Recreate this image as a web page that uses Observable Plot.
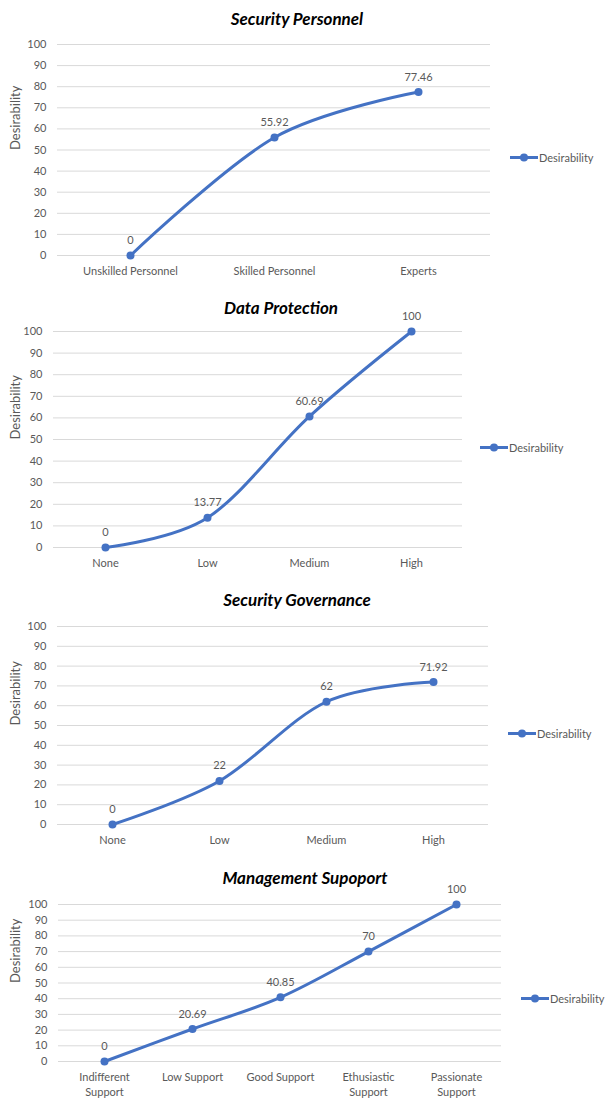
<!DOCTYPE html>
<html>
<head>
<meta charset="utf-8">
<script src="https://cdn.jsdelivr.net/npm/d3@7"></script>
<script src="https://cdn.jsdelivr.net/npm/@observablehq/plot@0.6"></script>
<style>
  html, body { margin: 0; padding: 0; background: #fff; }
  #page { position: relative; width: 605px; height: 1100px; overflow: hidden; font-family: Lato, "Open Sans", sans-serif; }
  .title { position: absolute; transform: translate(-50%, -50%); white-space: nowrap;
           font-weight: bold; font-style: italic; font-size: 17px; color: #000; }
  .chart { position: absolute; left: 0; }
  .legend { position: absolute; display: flex; align-items: center; transform: translateY(-50%);
            font-size: 11px; color: #595959; white-space: nowrap; }
</style>
</head>
<body>
<div id="page"></div>
<script>
// Shared value axis
const yTicks = [0, 10, 20, 30, 40, 50, 60, 70, 80, 90, 100];
const seriesName = "Desirability";

// Security Personnel
const personnelLevels = ["Unskilled Personnel", "Skilled Personnel", "Experts"];
const personnelValues = [0, 55.92, 77.46];

// Data Protection
const protectionLevels = ["None", "Low", "Medium", "High"];
const protectionValues = [0, 13.77, 60.69, 100];

// Security Governance
const governanceLevels = ["None", "Low", "Medium", "High"];
const governanceValues = [0, 22, 62, 71.92];

// Management Supoport
const supportLevels = ["Indifferent\nSupport", "Low Support", "Good Support", "Ethusiastic\nSupport", "Passionate\nSupport"];
const supportValues = [0, 20.69, 40.85, 70, 100];

const titles = ["Security Personnel", "Data Protection", "Security Governance", "Management Supoport"];

const panels = [
  {title: titles[0], cats: personnelLevels, vals: personnelValues,
   top: 30, height: 260, mt: 14, mb: 35, ml: 57, mr: 115, titleX: 297, titleY: 18, legendX: 510, legendY: 157},
  {title: titles[1], cats: protectionLevels, vals: protectionValues,
   top: 318, height: 262, mt: 13, mb: 33, ml: 53, mr: 143, titleX: 281, titleY: 307, legendX: 480, legendY: 447},
  {title: titles[2], cats: governanceLevels, vals: governanceValues,
   top: 612, height: 248, mt: 14, mb: 36, ml: 57, mr: 117, titleX: 297, titleY: 599, legendX: 508, legendY: 733},
  {title: titles[3], cats: supportLevels, vals: supportValues,
   top: 890, height: 210, mt: 14, mb: 39, ml: 58, mr: 104, titleX: 305, titleY: 877, legendX: 521, legendY: 998}
];

const page = document.getElementById("page");
const blue = "#4472C4";
const gray = "#595959";

for (const p of panels) {
  const data = p.cats.map((c, i) => ({level: c, value: p.vals[i]}));

  const title = document.createElement("div");
  title.className = "title";
  title.style.left = p.titleX + "px";
  title.style.top = p.titleY + "px";
  title.textContent = p.title;
  page.appendChild(title);

  const chart = Plot.plot({
    width: 605,
    height: p.height,
    marginTop: p.mt,
    marginBottom: p.mb,
    marginLeft: p.ml,
    marginRight: p.mr,
    style: {fontFamily: "Lato, 'Open Sans', sans-serif", fontSize: "11px", color: gray, background: "transparent", overflow: "visible"},
    x: {type: "point", domain: p.cats, padding: 0.5, label: null},
    y: {domain: [0, 100], label: null},
    marks: [
      Plot.gridY({ticks: yTicks, stroke: "#d9d9d9", strokeOpacity: 1, strokeWidth: 1}),
      Plot.axisY({ticks: yTicks, tickSize: 0, tickPadding: 11, label: null}),
      Plot.axisX({tickSize: 0, tickPadding: 9, label: null, lineHeight: 1.35}),
      Plot.text([seriesName], {frameAnchor: "left", rotate: -90, dx: 15 - p.ml, fontSize: 13}),
      Plot.line(data, {x: "level", y: "value", stroke: blue, strokeWidth: 3, curve: "cardinal"}),
      Plot.dot(data, {x: "level", y: "value", r: 4, fill: blue}),
      Plot.text(data, {x: "level", y: "value", text: d => String(d.value), dy: -15, fill: gray})
    ]
  });
  chart.classList.add("chart");
  chart.style.top = p.top + "px";
  chart.style.position = "absolute";
  page.appendChild(chart);

  const legend = document.createElement("div");
  legend.className = "legend";
  legend.style.left = p.legendX + "px";
  legend.style.top = p.legendY + "px";
  legend.innerHTML =
    `<svg width="28" height="10" style="margin-right:1px"><line x1="0" x2="28" y1="5" y2="5" stroke="${blue}" stroke-width="3"/><circle cx="14" cy="5" r="4" fill="${blue}"/></svg><span>${seriesName}</span>`;
  page.appendChild(legend);
}
</script>
</body>
</html>
